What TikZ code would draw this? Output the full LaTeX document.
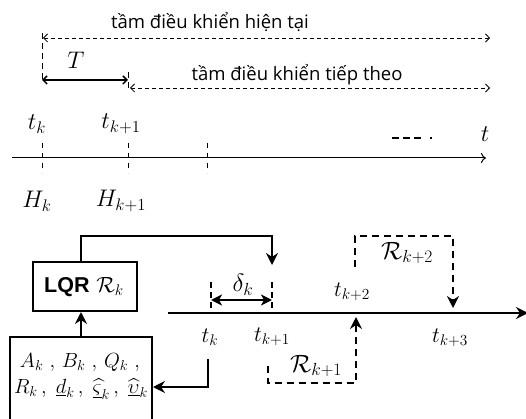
\RequirePackage{fix-cm}
\documentclass[tikz,border=0pt]{standalone}
\usepackage{amsmath,amssymb}
\usepackage{fontspec}
\setsansfont{Open Sans}
\newfontfamily\lqrfont{Liberation Sans}
\usetikzlibrary{arrows.meta}
\begin{document}
\begin{tikzpicture}[x=1pt,y=-1pt,
  barb/.style={line width=0.8pt},
  span/.style={barb, dash pattern=on 4pt off 3pt, {Straight Barb[length=4pt,width=8pt]}-{Straight Barb[length=4pt,width=8pt]}},
  ticktop/.style={line width=1pt, dash pattern=on 5pt off 5pt},
  heavy/.style={line width=2pt},
  heavydash/.style={line width=2pt, dash pattern=on 7pt off 5pt},
  tick/.style={line width=1.2pt, dash pattern=on 6pt off 4pt},
  sharp/.style={-{Stealth[length=12pt,width=12pt,inset=4pt]}},
  lbl/.style={inner sep=0pt, font=\fontsize{24}{28}\selectfont},
  sml/.style={inner sep=0pt, font=\fontsize{22}{26}\selectfont},
  prm/.style={inner sep=0pt, anchor=base, font=\fontsize{20.5}{24}\selectfont},
  big/.style={inner sep=0pt, font=\fontsize{25}{29}\selectfont},
  txt/.style={inner sep=0pt, font=\sffamily\fontsize{18.5}{22}\selectfont},
  box/.style={draw, line width=2pt, inner sep=0pt}
]
\useasboundingbox (0,0) rectangle (526,419);

% ---------- upper time line ----------
\coordinate (a0) at (12,158);
\coordinate (a1) at (486,158);
\draw[line width=1pt, -{To[length=5pt,width=10pt]}] (a0) -- (a1);

\coordinate (k0top) at (42,143);  \coordinate (k0bot) at (42,173);
\coordinate (k1top) at (128,143); \coordinate (k1bot) at (128,173);
\coordinate (k2top) at (207,143); \coordinate (k2bot) at (207,173);
\draw[ticktop] (k0top) -- (k0bot);
\draw[ticktop] (k1top) -- (k1bot);
\draw[ticktop] (k2top) -- (k2bot);

\node[lbl] (tk)  at (37,124)  {$t_k$};
\node[lbl] (tk1) at (121,124) {$t_{k+1}$};
\node[lbl] (tt)  at (485,134) {$t$};
\node[lbl] (Hk)  at (37,201)  {$H_k$};
\node[lbl] (Hk1) at (121,201) {$H_{k+1}$};

\coordinate (d0) at (392,138);
\coordinate (d1) at (437,138);
\draw[line width=1.2pt, dash pattern=on 7pt off 4pt on 7pt off 4pt on 7pt off 9pt on 2pt off 20pt] (d0) -- (d1);

% horizons
\coordinate (h0top) at (42,33);  \coordinate (h0bot) at (42,82);
\coordinate (h1top) at (128,72); \coordinate (h1bot) at (128,88);
\draw[ticktop, dash pattern=on 6pt off 4pt] (h0top) -- (h0bot);
\draw[ticktop, dash pattern=on 6pt off 4pt] (h1top) -- (h1bot);

\coordinate (cur0) at (43,38);  \coordinate (cur1) at (490,38);
\draw[span] (cur0) -- (cur1);
\node[txt] (curlbl) at (210,22) {tầm điều khiển hiện tại};

\coordinate (T0) at (42,80); \coordinate (T1) at (128,80);
\draw[line width=1.5pt, {Straight Barb[length=4pt,width=8pt]}-{Straight Barb[length=4pt,width=8pt]}] (T0) -- (T1);
\node[lbl] (Tlbl) at (76,60) {$T$};

\coordinate (nx0) at (130,88); \coordinate (nx1) at (490,88);
\draw[span] (nx0) -- (nx1);
\node[txt] (nxlbl) at (297,75) {tầm điều khiển tiếp theo};

% ---------- controller and parameters ----------
\node[box, minimum width=104pt, minimum height=49pt] (lqr) at (85,286.5) {};
\node[sml] (lqrlbl) at (84,287) {{\lqrfont\bfseries\fontsize{21.5}{25}\selectfont LQR}\ $\mathcal{R}_k$};

\node[box, minimum width=142pt, minimum height=86pt] (par) at (81,380) {};
\node[prm] (parA) at (80,367) {$A_k\ ,\,B_k\ ,\,Q_k\ ,$};
\node[prm] (parB) at (81,393)
  {$R_k\,,\;\underline{d}_k\,,\;\underline{\widehat{\varsigma}}_k\,,\;\underline{\widehat{\upsilon}}_k$};

% feedback from the controller to the next instant
\coordinate (fbtop) at (81,236);
\coordinate (fbend) at (272,265);
\draw[heavy, sharp] (fbtop |- par.north) -- (fbtop |- lqr.south);
\draw[heavy, sharp] (fbtop |- lqr.north) -- (fbtop) -| (fbend);

% ---------- lower time line ----------
\coordinate (b0) at (168,313);
\coordinate (b1) at (528,313);
\draw[heavy, sharp] (b0) -- (b1);

\coordinate (s0top) at (211,282); \coordinate (s0bot) at (211,313);
\coordinate (s1top) at (272,282); \coordinate (s1bot) at (272,313);
\draw[tick] (s0top) -- (s0bot);
\draw[tick] (s1top) -- (s1bot);

\coordinate (del0) at (211,300); \coordinate (del1) at (272,300);
\draw[heavy, {Stealth[length=11pt,width=11pt,inset=3pt]}-{Stealth[length=11pt,width=11pt,inset=3pt]}] (del0) -- (del1);
\node[big] (dlbl) at (243,285) {$\delta_k$};

\node[sml] (btk)  at (210,337) {$t_k$};
\node[sml] (btk1) at (272,337) {$t_{k+1}$};
\node[sml] (btk2) at (352,292) {$t_{k+2}$};
\node[sml] (btk3) at (450,338) {$t_{k+3}$};

% measurements at t_k into the parameter block
\coordinate (msrc) at (208,359);
\draw[heavy, sharp] (msrc) |- (par.east |- 0,387);

% following controllers
\coordinate (r1a) at (268,366);
\coordinate (r1b) at (356,317);
\draw[heavydash, sharp] (r1a) -- (268,383) -| (r1b);
\node[big] (r1lbl) at (316,366) {$\mathcal{R}_{k+1}$};

\coordinate (r2a) at (355,267);
\coordinate (r2b) at (453,308);
\draw[heavydash, sharp] (r2a) -- (355,236) -| (r2b);
\node[big] (r2lbl) at (407,253) {$\mathcal{R}_{k+2}$};
\end{tikzpicture}
\end{document}
